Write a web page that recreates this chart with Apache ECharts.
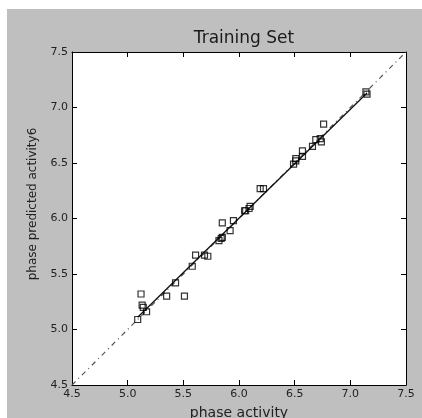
<!DOCTYPE html>
<html><head><meta charset="utf-8">
<script src="https://cdn.jsdelivr.net/npm/echarts@6/dist/echarts.min.js"></script>
<style>html,body{margin:0;padding:0;background:#fff}#c{width:422px;height:418px}</style>
</head><body><div id="c"></div>
<script>
var tickLabels = [4.5, 5.0, 5.5, 6.0, 6.5, 7.0, 7.5];
var actual = [5.09,5.12,5.13,5.14,5.17,5.35,5.51,5.43,5.58,5.61,5.69,5.72,5.82,5.85,5.84,5.85,5.92,5.95,6.05,6.06,6.09,6.10,6.19,6.22,6.49,6.51,6.51,6.57,6.57,6.66,6.69,6.73,6.74,6.76,7.14,7.15];
var predicted = [5.09,5.32,5.22,5.20,5.16,5.30,5.30,5.42,5.57,5.67,5.67,5.66,5.80,5.83,5.82,5.96,5.89,5.98,6.07,6.07,6.09,6.11,6.27,6.27,6.49,6.52,6.54,6.56,6.61,6.65,6.71,6.72,6.69,6.85,7.14,7.12];
var fitLine = [[5.09, 5.11], [7.15, 7.13]];
var identity = [[4.5, 4.5], [7.5, 7.5]];

var points = actual.map(function(v, i){ return [v, predicted[i]]; });
var chart = echarts.init(document.getElementById('c'));
var font = 'DejaVu Sans';
function fmt(v){ return v.toFixed(1); }
var baseAxis = {
  type: 'value', min: 4.5, max: 7.5, interval: 0.5,
  axisLine: {show: true, lineStyle: {color: '#000', width: 1}},
  axisTick: {show: true, inside: true, length: 5, lineStyle: {color: '#000', width: 1}},
  splitLine: {show: false}
};
chart.setOption({
  backgroundColor: '#fff',
  animation: false,
  graphic: [
    {type: 'rect', shape: {x: 7, y: 9, width: 415, height: 409}, style: {fill: '#bfbfbf'}, z: -10, silent: true},
    {type: 'text', x: 33, y: 204, rotation: Math.PI / 2, silent: true,
      style: {text: 'phase predicted activity6', font: '12px "DejaVu Sans"', fill: '#222',
        textAlign: 'center', textVerticalAlign: 'middle'}}
  ],
  title: {text: 'Training Set', left: 239, textAlign: 'center', top: 25,
    textStyle: {fontFamily: font, fontSize: 17, fontWeight: 'normal', color: '#1a1a1a'}},
  grid: {left: 72, right: 16, top: 52, bottom: 33, show: true, backgroundColor: '#fff', borderWidth: 0,
    containLabel: false, outerBoundsMode: 'none'},
  xAxis: [
    Object.assign({}, baseAxis, {position: 'bottom',
      axisLabel: {fontFamily: font, fontSize: 11, color: '#222', margin: 4, formatter: fmt},
      name: 'phase activity', nameLocation: 'middle', nameGap: 21,
      nameTextStyle: {fontFamily: font, fontSize: 14, color: '#222'}}),
    Object.assign({}, baseAxis, {position: 'top', axisLabel: {show: false}})
  ],
  yAxis: [
    Object.assign({}, baseAxis, {position: 'left',
      axisLabel: {fontFamily: font, fontSize: 11, color: '#222', margin: 4, formatter: fmt}}),
    Object.assign({}, baseAxis, {position: 'right', axisLabel: {show: false}})
  ],
  series: [
    {type: 'line', data: identity, showSymbol: false, symbol: 'none',
      lineStyle: {color: '#555', width: 1.2, type: [5, 4, 1, 4]}, z: 1},
    {type: 'line', data: fitLine, showSymbol: false, symbol: 'none',
      lineStyle: {color: '#111', width: 1.3}, z: 2},
    {type: 'scatter', data: points, symbol: 'rect', symbolSize: 6,
      itemStyle: {color: 'rgba(255,255,255,0)', borderColor: '#000', borderWidth: 1.2}, z: 3}
  ]
});
</script></body></html>
